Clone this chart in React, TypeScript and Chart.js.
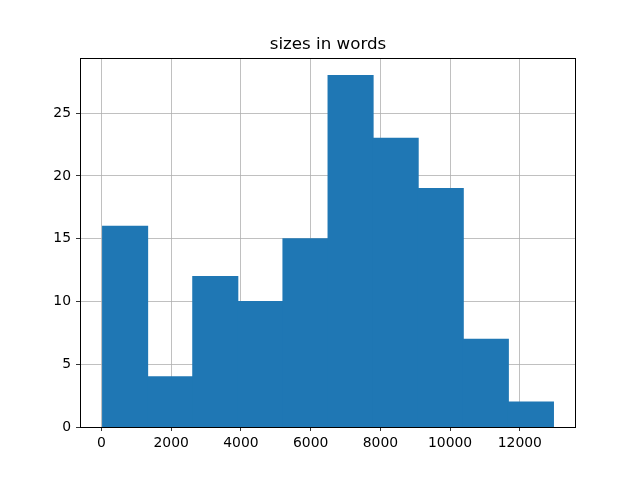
import React, { useEffect, useRef } from "react";
import { Chart, registerables } from "chart.js";

Chart.register(...registerables);

// Histogram bin edges and counts per bin
const binEdges = [33, 1326, 2619, 3912, 5205, 6499, 7792, 9085, 10378, 11671, 12964];
const counts = [16, 4, 12, 10, 15, 28, 23, 19, 7, 2];
const xTicks = [0, 2000, 4000, 6000, 8000, 10000, 12000];
const yTicks = [0, 5, 10, 15, 20, 25];
const titleText = "sizes in words";

const FONT = "'DejaVu Sans', sans-serif";

export default function App() {
  const ref = useRef<HTMLCanvasElement | null>(null);

  useEffect(() => {
    if (!ref.current) return;
    const centers = counts.map((_, i) => (binEdges[i] + binEdges[i + 1]) / 2);
    const data = counts.map((c, i) => ({ x: centers[i], y: c }));

    const framePlugin = {
      id: "frameAndTitle",
      afterDraw(chart: any) {
        const { ctx, chartArea } = chart;
        ctx.save();
        ctx.strokeStyle = "#000000";
        ctx.lineWidth = 1;
        ctx.strokeRect(
          Math.round(chartArea.left) + 0.5,
          Math.round(chartArea.top) + 0.5,
          Math.round(chartArea.right - chartArea.left) - 1,
          Math.round(chartArea.bottom - chartArea.top)
        );
        ctx.fillStyle = "#000000";
        ctx.font = `16.7px ${FONT}`;
        ctx.textAlign = "center";
        ctx.textBaseline = "alphabetic";
        ctx.fillText(titleText, (chartArea.left + chartArea.right) / 2, chartArea.top - 8.8);
        ctx.restore();
      },
    };

    const chart = new Chart(ref.current, {
      type: "bar",
      data: {
        datasets: [
          {
            data: data as any,
            backgroundColor: "#1f77b4",
            borderWidth: 0,
            borderSkipped: false,
            barPercentage: 1,
            categoryPercentage: 1,
            inflateAmount: 0.5,
          } as any,
        ],
      },
      options: {
        animation: false,
        responsive: false,
        layout: { padding: { top: 58, right: 64, left: 0, bottom: 0 } },
        plugins: {
          legend: { display: false },
          title: { display: false },
          tooltip: { enabled: false },
        },
        scales: {
          x: {
            type: "linear",
            min: -614,
            max: 13610,
            offset: false,
            z: 1,
            afterBuildTicks: (scale: any) => {
              scale.ticks = xTicks.map((v) => ({ value: v }));
            },
            afterFit: (scale: any) => {
              scale.height = 53;
            },
            grid: {
              offset: false,
              color: "#b0b0b0",
              lineWidth: 0.8,
              tickColor: "#000000",
              tickLength: 4,
              drawTicks: true,
            },
            border: { display: false },
            ticks: {
              color: "#000000",
              font: { family: FONT, size: 13.9 },
              padding: 4,
              maxRotation: 0,
              autoSkip: false,
              callback: (v: any) => String(v),
            },
          },
          y: {
            type: "linear",
            min: 0,
            max: 29.4,
            z: 1,
            afterBuildTicks: (scale: any) => {
              scale.ticks = yTicks.map((v) => ({ value: v }));
            },
            afterFit: (scale: any) => {
              scale.width = 80;
            },
            grid: {
              color: "#b0b0b0",
              lineWidth: 0.8,
              tickColor: "#000000",
              tickLength: 4,
              drawTicks: true,
            },
            border: { display: false },
            ticks: {
              color: "#000000",
              font: { family: FONT, size: 13.9 },
              padding: 5,
              autoSkip: false,
              callback: (v: any) => String(v),
            },
          },
        },
      },
      plugins: [framePlugin],
    });
    return () => chart.destroy();
  }, []);

  return (
    <div style={{ position: "absolute", left: 0, top: 0, width: 640, height: 480, background: "#ffffff" }}>
      <canvas ref={ref} width={640} height={480} style={{ display: "block" }} />
    </div>
  );
}
